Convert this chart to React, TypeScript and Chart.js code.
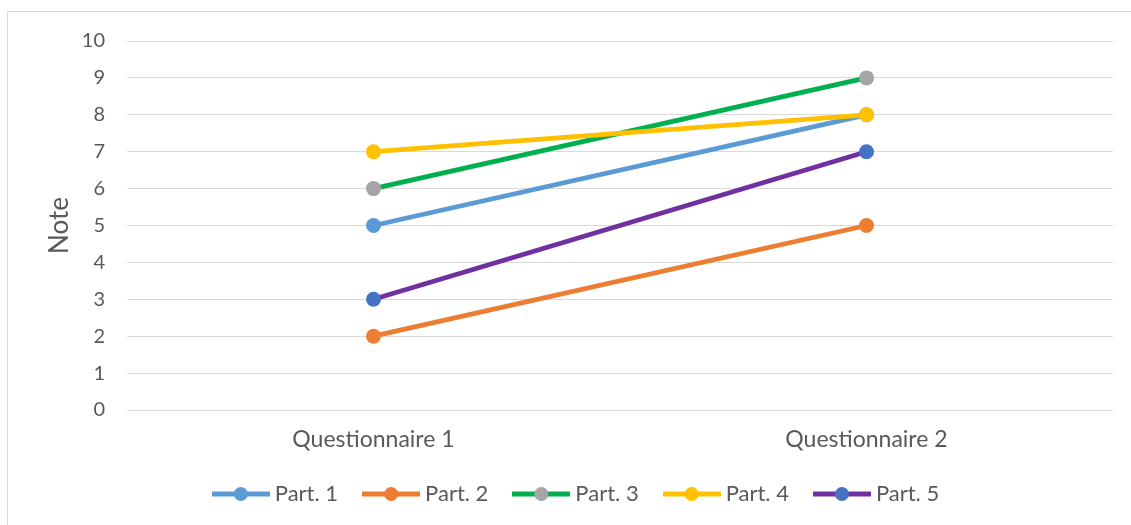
import React, { useEffect, useRef } from "react";
import { Chart, registerables } from "chart.js";

Chart.register(...registerables);

const categories = ["Questionnaire 1", "Questionnaire 2"];
const seriesNames = ["Part. 1", "Part. 2", "Part. 3", "Part. 4", "Part. 5"];
const part1 = [5, 8];
const part2 = [2, 5];
const part3 = [6, 9];
const part4 = [7, 8];
const part5 = [3, 7];
const seriesValues = [part1, part2, part3, part4, part5];
const lineColors = ["#5B9BD5", "#ED7D31", "#00B050", "#FFC000", "#7030A0"];
const markerColors = ["#5B9BD5", "#ED7D31", "#A5A5A5", "#FFC000", "#4472C4"];
const yAxisTitle = "Note";

const FONT = "Lato, 'Open Sans', sans-serif";
const TEXT = "#595959";

function legendSwatch(line: string, marker: string): HTMLCanvasElement {
  const c = document.createElement("canvas");
  c.width = 58;
  c.height = 16;
  const ctx = c.getContext("2d")!;
  ctx.strokeStyle = line;
  ctx.lineWidth = 5;
  ctx.beginPath();
  ctx.moveTo(0, 8);
  ctx.lineTo(58, 8);
  ctx.stroke();
  ctx.fillStyle = marker;
  ctx.beginPath();
  ctx.arc(29, 8, 7, 0, Math.PI * 2);
  ctx.fill();
  return c;
}

export default function App() {
  const ref = useRef<HTMLCanvasElement>(null);
  useEffect(() => {
    if (!ref.current) return;
    const swatches = seriesNames.map((_, i) => legendSwatch(lineColors[i], markerColors[i]));
    const chart = new Chart(ref.current, {
      type: "line",
      data: {
        labels: categories,
        datasets: seriesNames.map((name, i) => ({
          label: name,
          data: seriesValues[i],
          borderColor: lineColors[i],
          backgroundColor: markerColors[i],
          pointBackgroundColor: markerColors[i],
          pointBorderColor: markerColors[i],
          pointBorderWidth: 0,
          pointRadius: 7.5,
          borderWidth: 4.8,
          tension: 0,
          fill: false,
          order: seriesNames.length - i,
        })),
      },
      options: {
        responsive: false,
        animation: false,
        layout: { padding: { left: 44, right: 18, top: 41, bottom: 10 } },
        plugins: {
          tooltip: { enabled: false },
          legend: {
            position: "bottom",
            labels: {
              usePointStyle: true,
              pointStyleWidth: 46,
              padding: 30,
              color: TEXT,
              font: { family: FONT, size: 22 },
              generateLabels: (ch: any) =>
                ch.data.datasets.map((ds: any, i: number) => ({
                  text: ds.label,
                  pointStyle: swatches[i],
                  datasetIndex: i,
                  fontColor: TEXT,
                  fillStyle: "transparent",
                  strokeStyle: "transparent",
                  lineWidth: 0,
                  hidden: false,
                })),
            },
          },
        },
        scales: {
          x: {
            offset: true,
            grid: { display: false, drawTicks: false },
            border: { display: false },
            ticks: { color: TEXT, font: { family: FONT, size: 23 }, padding: 16 },
            afterFit: (s: any) => {
              s.height = 43;
            },
          },
          y: {
            min: 0,
            max: 10,
            ticks: { stepSize: 1, color: TEXT, font: { family: FONT, size: 20 }, padding: 22 },
            grid: { color: "#D9D9D9", lineWidth: 1, drawTicks: false },
            border: { display: false },
            title: {
              display: true,
              text: yAxisTitle,
              color: TEXT,
              font: { family: FONT, size: 26 },
              padding: { top: 0, bottom: 0 },
            },
            afterFit: (s: any) => {
              s.width = 83;
            },
          },
        },
      },
    });
    return () => chart.destroy();
  }, []);

  return (
    <div style={{ position: "absolute", left: 0, top: 0, width: 1131, height: 525, background: "#fff", overflow: "hidden" }}>
      <div
        style={{
          position: "absolute",
          left: 7,
          top: 11,
          width: 1140,
          height: 540,
          border: "1px solid #D9D9D9",
          boxSizing: "border-box",
        }}
      />
      <canvas ref={ref} width={1131} height={525} style={{ position: "absolute", left: 0, top: 0 }} />
    </div>
  );
}
